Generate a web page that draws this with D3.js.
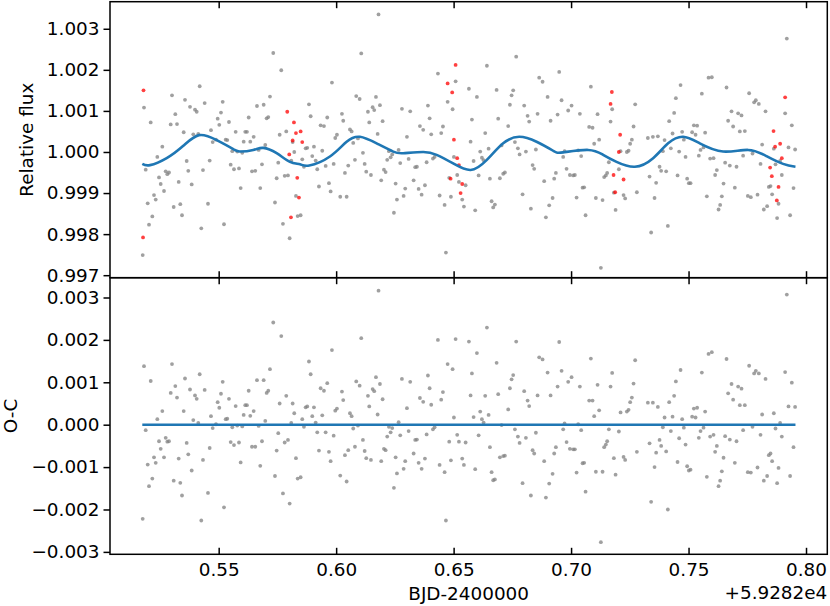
<!DOCTYPE html>
<html>
<head>
<meta charset="utf-8">
<script src="https://cdn.jsdelivr.net/npm/d3@7"></script>
<style>
  body { margin: 0; background: #fff; }
  svg { display: block; }
  text { font-family: "DejaVu Sans", sans-serif; }
</style>
</head>
<body>
<svg id="chart" width="830" height="606"></svg>
<script>
// BJD - 2459282, gray points (kept in the fit)
const time = [
0.51766,0.51821,0.51894,0.51979,0.52034,0.52107,0.52175,0.52247,0.52320,0.52388,
0.52460,0.52532,0.52601,0.52673,0.52745,0.52813,0.52885,0.52958,0.53013,0.53085,
0.53154,0.53226,0.53298,0.53366,0.53439,0.53511,0.53566,0.53638,0.53706,0.53779,
0.53851,0.53919,0.53992,0.54064,0.54132,0.54192,0.54260,0.54332,0.54404,0.54545,
0.54617,0.54672,0.54745,0.54885,0.54957,0.55026,0.55098,0.55170,0.55226,0.55298,
0.55366,0.55438,0.55511,0.55579,0.55651,0.55723,0.55791,0.55864,0.55936,0.56004,
0.56064,0.56132,0.56204,0.56277,0.56345,0.56417,0.56489,0.56557,0.56630,0.56702,
0.56770,0.56843,0.56915,0.56983,0.57042,0.57111,0.57183,0.57323,0.57396,0.57468,
0.57536,0.57596,0.57664,0.57736,0.57809,0.57877,0.57949,0.58021,0.58089,0.58149,
0.58217,0.58289,0.58362,
0.58489,0.58557,0.58630,0.58702,0.58770,0.58843,0.58915,0.58983,0.59055,0.59128,
0.59196,0.59268,0.59340,0.59409,0.59481,0.59553,0.59621,0.59694,0.59766,0.59821,
0.59894,0.59962,0.60034,0.60174,0.60247,0.60302,0.60374,0.60447,0.60515,0.60587,
0.60659,0.60727,0.60800,0.60855,0.60928,0.61000,0.61068,0.61140,0.61213,0.61281,
0.61353,0.61409,0.61481,0.61553,0.61621,0.61694,0.61766,0.61804,0.61864,0.61919,
0.61978,0.62034,0.62106,0.62174,0.62246,0.62319,0.62387,0.62459,0.62532,0.62587,
0.62659,0.62728,0.62800,0.62872,0.62940,0.63013,0.63085,0.63153,0.63298,0.63366,
0.63438,0.63511,0.63566,0.63638,0.63706,0.63779,0.63851,0.63906,0.63979,0.64047,
0.64119,0.64191,0.64332,0.64404,0.64472,0.64545,0.64617,0.64672,0.64745,0.64813,
0.64885,0.64957,0.65013,0.65085,0.65153,0.65226,0.65366,0.65438,0.65511,0.65651,
0.65723,0.65779,0.65851,0.65919,0.65991,0.66064,0.66132,0.66204,0.66277,0.66345,
0.66417,0.66489,0.66545,0.66617,0.66685,0.66757,0.66830,0.66898,0.66970,0.67042,
0.67111,0.67183,0.67323,0.67396,0.67468,0.67536,0.67609,0.67664,0.67736,0.67809,
0.67936,0.68004,0.68077,0.68149,0.68217,0.68289,0.68362,0.68430,0.68502,0.68574,
0.68643,0.68787,0.68855,0.68928,0.69000,0.69068,0.69128,0.69213,0.69281,0.69353,
0.69426,0.69494,
0.69596,0.69664,0.69723,0.69808,0.69877,0.69949,0.70021,0.70089,
0.70161,0.70234,0.70302,0.70374,0.70430,0.70489,0.70557,0.70617,0.70770,0.70842,
0.70914,0.70983,0.71055,0.71127,0.71195,0.71268,0.71340,0.71408,0.71480,0.71536,
0.71608,0.71681,0.71749,0.71821,0.71894,0.72034,0.72106,0.72234,0.72302,0.72374,
0.72447,0.72515,0.72587,0.72659,0.72728,0.72800,0.73268,0.73340,0.73408,0.73481,
0.73553,0.73621,0.73694,0.73766,0.73834,0.73906,0.73979,0.74047,0.74119,0.74175,
0.74247,0.74319,0.74387,0.74460,0.74532,0.74600,0.74660,0.74728,0.74800,0.74873,
0.74941,0.75013,0.75085,0.75153,0.75226,0.75298,0.75366,0.75438,0.75511,0.75566,
0.75638,0.75706,0.75779,0.75851,0.75919,0.75991,0.76064,0.76132,0.76204,0.76277,
0.76345,0.76417,0.76489,0.76557,0.76617,0.76685,0.76757,0.76830,0.76898,0.76970,
0.77042,0.77111,0.77183,0.77255,0.77323,0.77396,0.77523,0.77579,0.77651,0.77723,
0.77791,0.77864,0.77936,0.77991,0.78064,0.78132,0.78204,0.78277,0.78345,0.78417,
0.78489,0.78557,0.78630,0.78702,0.78770,0.78830,0.78898,0.78970,0.79111,0.79183,
0.79255,0.79323,0.79396,0.79468,0.79536
];

// relative flux of the gray points (top panel)
const flux = [
0.99749,1.00108,0.99957,0.99875,0.99823,1.00072,0.99843,0.99895,0.99884,0.99988,
0.99938,0.99922,1.00013,0.99905,0.99953,0.99946,0.99950,1.00067,1.00138,0.99866,
1.00092,1.00068,0.99927,0.99873,0.99846,1.00048,1.00127,0.99978,0.99954,1.00110,
0.99921,1.00043,1.00103,1.00098,1.00044,1.00160,0.99814,0.99956,1.00119,0.99874,
0.99979,1.00053,1.00024,1.00030,1.00081,1.00066,1.00096,1.00122,0.99824,1.00030,
1.00029,1.00073,0.99969,1.00002,0.99958,1.00049,1.00001,0.99960,0.99912,0.99998,
1.00025,1.00049,1.00049,1.00084,1.00025,0.99953,1.00037,0.99954,1.00112,1.00005,
0.99912,0.99970,1.00115,1.00017,1.00082,1.00085,1.00135,1.00241,0.99877,0.99936,
0.99974,1.00042,1.00199,0.99825,0.99942,1.00050,0.99943,0.99790,0.99979,1.00024,
1.00000,0.99893,0.99844,
0.99846,0.99982,0.99964,1.00009,1.00010,1.00116,1.00087,0.99990,1.00013,0.99979,
0.99958,0.99916,1.00065,1.00003,1.00063,0.99966,1.00084,0.99924,0.99904,1.00169,
0.99971,1.00034,1.00042,0.99891,1.00093,1.00076,0.99949,0.99891,0.99967,1.00055,
1.00050,1.00022,0.99981,1.00136,1.00033,1.00129,1.00240,0.99998,0.99971,0.99952,
1.00098,1.00072,0.99944,1.00109,1.00102,1.00134,1.00044,1.00335,1.00114,0.99931,
1.00075,0.99957,0.99951,0.99981,1.00002,0.99987,0.99994,0.99852,0.99923,0.99884,
1.00005,0.99973,1.00105,0.99893,0.99911,1.00037,0.99983,1.00099,0.99931,0.99963,
0.99964,0.99910,1.00063,0.99896,1.00054,0.99919,0.99975,1.00113,1.00082,1.00043,
0.99984,0.99988,1.00191,0.99894,1.00046,1.00062,0.99871,0.99755,1.00122,0.99937,
0.99891,1.00104,0.99988,1.00172,0.99944,0.99927,0.99884,0.99867,0.99919,1.00154,
1.00025,1.00079,0.99978,0.99858,1.00134,0.99943,1.00001,0.99986,0.99980,1.00046,
1.00210,1.00008,0.99935,0.99880,0.99865,0.99872,1.00151,1.00081,0.99936,1.00016,
0.99947,0.99950,1.00063,1.00115,1.00138,1.00150,1.00024,1.00232,1.00009,0.99994,
0.99897,1.00113,1.00001,1.00088,1.00074,0.99862,0.99968,0.99959,1.00006,1.00093,
1.00181,1.00171,0.99929,0.99841,1.00134,0.99870,1.00076,0.99888,0.99935,0.99949,
1.00091,1.00195,
1.00126,0.99988,1.00002,0.99959,1.00101,0.99944,1.00113,0.99943,
0.99944,0.99889,1.00004,1.00093,0.99990,0.99913,0.99914,0.99846,1.00061,1.00159,
1.00059,1.00020,0.99888,1.00092,1.00030,0.99718,0.99883,0.99939,0.99943,0.99949,
0.99975,1.00074,1.00104,0.99901,0.99859,0.99958,1.00002,0.99895,0.99887,1.00000,
1.00003,1.00020,1.00030,1.00062,1.00116,0.99902,1.00034,0.99940,0.99804,1.00037,
0.99888,0.99925,1.00038,0.99964,0.99954,1.00002,1.00029,0.99953,0.99820,1.00075,
1.00009,1.00045,1.00095,1.00131,0.99943,1.00001,1.00163,1.00049,1.00030,0.99988,
0.99935,0.99924,0.99924,1.00048,1.00065,1.00042,1.00064,0.99991,1.00005,1.00142,
1.00011,1.00047,0.99892,1.00181,0.99984,1.00182,0.99985,0.99944,0.99956,0.99860,
0.99871,0.99892,0.99923,0.99974,1.00157,1.00076,0.99967,1.00099,1.00062,0.99913,
0.99964,1.00094,1.00050,1.00089,0.99991,1.00051,0.99893,1.00143,0.99890,0.99996,
1.00121,1.00126,0.99896,1.00117,0.99971,1.00018,0.99860,1.00099,0.99868,0.99915,
0.99917,0.99897,1.00008,0.99970,0.99839,0.99874,0.99978,0.99944,1.00094,1.00276,
1.00011,0.99846,1.00065,0.99912,1.00006
];

// residuals O-C of the gray points (bottom panel)
const resid = [
-2.22e-3,1.38e-3,-0.13e-3,-0.94e-3,-1.45e-3,1.03e-3,-1.27e-3,-0.77e-3,-0.90e-3,0.13e-3,
-0.39e-3,-0.57e-3,0.32e-3,-0.77e-3,-0.31e-3,-0.40e-3,-0.39e-3,0.75e-3,1.43e-3,-1.32e-3,
0.91e-3,0.64e-3,-0.80e-3,-1.37e-3,-1.67e-3,0.32e-3,1.09e-3,-0.43e-3,-0.70e-3,0.83e-3,
-1.08e-3,0.11e-3,0.69e-3,0.61e-3,0.04e-3,1.19e-3,-2.26e-3,-0.83e-3,0.82e-3,-1.61e-3,
-0.55e-3,0.20e-3,-0.08e-3,0.01e-3,0.53e-3,0.40e-3,0.73e-3,1.01e-3,-1.95e-3,0.13e-3,
0.14e-3,0.61e-3,-0.41e-3,-0.06e-3,-0.48e-3,0.44e-3,-0.02e-3,-0.42e-3,-0.89e-3,-0.04e-3,
0.23e-3,0.46e-3,0.46e-3,0.80e-3,0.21e-3,-0.52e-3,0.32e-3,-0.52e-3,1.05e-3,-0.03e-3,
-0.97e-3,-0.39e-3,1.05e-3,0.09e-3,0.75e-3,0.80e-3,1.31e-3,2.41e-3,-1.21e-3,-0.61e-3,
-0.20e-3,0.50e-3,2.09e-3,-1.62e-3,-0.42e-3,0.68e-3,-0.36e-3,-1.86e-3,0.04e-3,0.50e-3,
0.27e-3,-0.79e-3,-1.27e-3,
-1.24e-3,0.13e-3,-0.05e-3,0.41e-3,0.43e-3,1.49e-3,1.19e-3,0.20e-3,0.41e-3,0.05e-3,
-0.18e-3,-0.61e-3,0.86e-3,0.22e-3,0.80e-3,-0.18e-3,0.98e-3,-0.64e-3,-0.86e-3,1.76e-3,
-0.26e-3,0.33e-3,0.38e-3,-1.20e-3,0.78e-3,0.58e-3,-0.72e-3,-1.34e-3,-0.60e-3,0.27e-3,
0.20e-3,-0.09e-3,-0.52e-3,1.02e-3,-0.02e-3,0.92e-3,2.04e-3,-0.36e-3,-0.62e-3,-0.79e-3,
0.68e-3,0.43e-3,-0.83e-3,0.84e-3,0.79e-3,1.12e-3,0.24e-3,3.16e-3,0.96e-3,-0.86e-3,
0.60e-3,-0.57e-3,-0.60e-3,-0.28e-3,-0.05e-3,-0.18e-3,-0.08e-3,-1.49e-3,-0.77e-3,-1.15e-3,
0.06e-3,-0.25e-3,1.08e-3,-1.04e-3,-0.86e-3,0.39e-3,-0.15e-3,1.01e-3,-0.68e-3,-0.36e-3,
-0.35e-3,-0.90e-3,0.63e-3,-1.04e-3,0.54e-3,-0.80e-3,-0.23e-3,1.16e-3,0.86e-3,0.47e-3,
-0.11e-3,-0.06e-3,2.00e-3,-0.95e-3,0.59e-3,0.77e-3,-1.12e-3,-2.26e-3,1.43e-3,-0.40e-3,
-0.84e-3,1.31e-3,0.17e-3,2.02e-3,-0.24e-3,-0.40e-3,-0.80e-3,-0.95e-3,-0.42e-3,1.96e-3,
0.69e-3,1.21e-3,0.18e-3,-1.05e-3,1.69e-3,-0.25e-3,0.31e-3,0.13e-3,0.05e-3,0.68e-3,
2.29e-3,0.23e-3,-0.53e-3,-1.12e-3,-1.31e-3,-1.29e-3,1.46e-3,0.72e-3,-0.77e-3,-0.01e-3,
-0.74e-3,-0.73e-3,0.36e-3,0.86e-3,1.07e-3,1.17e-3,-0.11e-3,1.96e-3,-0.28e-3,-0.43e-3,
-1.38e-3,0.79e-3,-0.31e-3,0.57e-3,0.44e-3,-1.67e-3,-0.60e-3,-0.68e-3,-0.19e-3,0.69e-3,
1.59e-3,1.54e-3,-0.86e-3,-1.72e-3,1.23e-3,-1.39e-3,0.69e-3,-1.16e-3,-0.68e-3,-0.53e-3,
0.90e-3,1.95e-3,
1.27e-3,-0.11e-3,0.03e-3,-0.41e-3,1.01e-3,-0.57e-3,1.12e-3,-0.58e-3,
-0.58e-3,-1.13e-3,0.01e-3,0.90e-3,-0.13e-3,-0.91e-3,-0.90e-3,-1.58e-3,0.57e-3,1.56e-3,
0.57e-3,0.20e-3,-1.11e-3,0.94e-3,0.34e-3,-2.77e-3,-1.11e-3,-0.53e-3,-0.47e-3,-0.39e-3,
-0.11e-3,0.90e-3,1.22e-3,-0.79e-3,-1.18e-3,-0.16e-3,0.29e-3,-0.76e-3,-0.83e-3,0.31e-3,
0.35e-3,0.53e-3,0.64e-3,0.97e-3,1.52e-3,-0.64e-3,0.52e-3,-0.44e-3,-1.82e-3,0.52e-3,
-1.00e-3,-0.66e-3,0.42e-3,-0.36e-3,-0.50e-3,-0.06e-3,0.17e-3,-0.63e-3,-2.00e-3,0.53e-3,
-0.15e-3,0.19e-3,0.68e-3,1.02e-3,-0.88e-3,-0.32e-3,1.29e-3,0.13e-3,-0.07e-3,-0.47e-3,
-0.98e-3,-1.08e-3,-1.06e-3,0.19e-3,0.38e-3,0.17e-3,0.40e-3,-0.31e-3,-0.15e-3,1.23e-3,
-0.07e-3,0.31e-3,-1.23e-3,1.67e-3,-0.28e-3,1.71e-3,-0.24e-3,-0.64e-3,-0.50e-3,-1.45e-3,
-1.32e-3,-1.10e-3,-0.78e-3,-0.27e-3,1.55e-3,0.74e-3,-0.35e-3,0.96e-3,0.59e-3,-0.90e-3,
-0.39e-3,0.90e-3,0.46e-3,0.85e-3,-0.13e-3,0.46e-3,-1.12e-3,1.39e-3,-1.13e-3,-0.05e-3,
1.21e-3,1.27e-3,-1.01e-3,1.21e-3,-0.24e-3,0.24e-3,-1.32e-3,1.08e-3,-1.21e-3,-0.72e-3,
-0.68e-3,-0.86e-3,0.27e-3,-0.09e-3,-1.38e-3,-1.02e-3,0.04e-3,-0.28e-3,1.24e-3,3.07e-3,
0.43e-3,-1.21e-3,0.99e-3,-0.53e-3,0.42e-3
];

// rejected points, shown in red in the top panel only
const redTime = [
0.51780,0.51800,
0.57919,0.58004,0.58077,0.58149,0.58204,0.58289,0.58345,0.58417,0.58489,0.58557,
0.64745,0.64872,0.64940,0.65013,0.65085,0.65153,0.65226,0.65298,0.65366,
0.71681,0.71736,0.71808,0.71876,0.72034,0.72089,0.72234,
0.78472,0.78545,0.78617,0.78685,0.78757,0.78830,0.78898,0.78970,0.79111
];
const redFlux = [
0.99792,1.00150,
1.00098,0.99994,0.99841,1.00028,1.00072,1.00046,0.99937,0.99889,1.00050,1.00024,
1.00167,0.99935,1.00145,1.00030,1.00212,0.99985,0.99968,0.99900,0.99922,
1.00117,1.00146,0.99944,0.99902,1.00000,1.00042,0.99933,
0.99962,0.99941,1.00051,1.00013,0.99882,0.99915,1.00020,0.99985,1.00133
];

// model curve
const modelTime = [
0.51749,0.52077,0.52787,0.53494,0.54162,0.54915,0.55621,0.55906,0.56472,0.56898,
0.57468,0.58034,0.58459,0.58855,0.59736,0.60446,0.61012,0.61723,0.62429,0.62855,
0.63706,0.64276,0.64982,0.65723,0.66403,0.67110,0.67791,0.68531,0.69237,0.69663,
0.70726,0.71365,0.71935,0.72714,0.73492,0.74130,0.74769,0.75479,0.76471,0.77534,
0.78317,0.79024,0.79551
];
const modelFlux = [
0.99971,0.99968,0.99985,1.00015,1.00041,1.00029,1.00007,1.00001,1.00005,1.00010,
0.99997,0.99976,0.99970,0.99967,0.99989,1.00025,1.00037,1.00021,1.00001,0.99997,
1.00000,0.99993,0.99972,0.99956,0.99980,1.00021,1.00037,1.00025,1.00003,0.99999,
1.00005,0.99993,0.99976,0.99964,0.99985,1.00021,1.00037,1.00021,1.00001,1.00005,
0.99990,0.99971,0.99964
];

const xTicks = [0.55, 0.60, 0.65, 0.70, 0.75, 0.80];
const xTickLabels = ["0.55", "0.60", "0.65", "0.70", "0.75", "0.80"];
const fluxTicks = [0.997, 0.998, 0.999, 1.000, 1.001, 1.002, 1.003];
const residTicks = [-0.003, -0.002, -0.001, 0.000, 0.001, 0.002, 0.003];

const left = 110, right = 827.3;
const top1 = 1.7, mid = 277.7, bottom = 554.3;
const fontSize = 18.4;
const blue = "#1f77b4";

const svg = d3.select("#chart");

const x = d3.scaleLinear().domain([0.50374, 0.80906]).range([left, right]);
const yTop = d3.scaleLinear().domain([0.996939, 1.003659]).range([mid, top1]);
const yBot = d3.scaleLinear().domain([-0.003057, 0.003467]).range([bottom, mid]);

function styleAxis(g) {
  g.select(".domain").remove();
  g.selectAll(".tick line").attr("stroke", "#000").attr("stroke-width", 1.5);
  g.selectAll(".tick text")
    .attr("fill", "#000")
    .attr("font-size", fontSize)
    .attr("font-family", "DejaVu Sans, sans-serif");
}

// points, top panel
svg.append("g").selectAll("circle")
  .data(time)
  .join("circle")
  .attr("cx", d => x(d))
  .attr("cy", (d, i) => yTop(flux[i]))
  .attr("r", 1.9)
  .attr("fill", "#808080")
  .attr("fill-opacity", 0.75);

svg.append("g").selectAll("circle")
  .data(redTime)
  .join("circle")
  .attr("cx", d => x(d))
  .attr("cy", (d, i) => yTop(redFlux[i]))
  .attr("r", 1.9)
  .attr("fill", "#ff0000")
  .attr("fill-opacity", 0.75);

const modelLine = d3.line()
  .x(d => x(d[0]))
  .y(d => yTop(d[1]))
  .curve(d3.curveNatural);

svg.append("path")
  .datum(modelTime.map((t, i) => [t, modelFlux[i]]))
  .attr("d", modelLine)
  .attr("fill", "none")
  .attr("stroke", blue)
  .attr("stroke-width", 2.6);

// points, bottom panel
svg.append("g").selectAll("circle")
  .data(time)
  .join("circle")
  .attr("cx", d => x(d))
  .attr("cy", (d, i) => yBot(resid[i]))
  .attr("r", 1.9)
  .attr("fill", "#808080")
  .attr("fill-opacity", 0.75);

const [t0, t1] = d3.extent(modelTime);
svg.append("line")
  .attr("x1", x(t0)).attr("x2", x(t1))
  .attr("y1", yBot(0)).attr("y2", yBot(0))
  .attr("stroke", blue)
  .attr("stroke-width", 2.6);

// axes
svg.append("g")
  .attr("transform", `translate(${left},0)`)
  .call(d3.axisLeft(yTop).tickValues(fluxTicks).tickFormat(d3.format(".3f")).tickSize(6.5).tickPadding(4))
  .call(styleAxis);

svg.append("g")
  .attr("transform", `translate(${left},0)`)
  .call(d3.axisLeft(yBot).tickValues(residTicks).tickFormat(d3.format(".3f")).tickSize(6.5).tickPadding(4))
  .call(styleAxis);

svg.append("g")
  .attr("transform", `translate(0,${top1})`)
  .call(d3.axisTop(x).tickValues(xTicks).tickFormat("").tickSize(-6.5))
  .call(styleAxis);

svg.append("g")
  .attr("transform", `translate(0,${mid})`)
  .call(d3.axisBottom(x).tickValues(xTicks).tickFormat("").tickSize(-6.5))
  .call(styleAxis);

svg.append("g")
  .attr("transform", `translate(0,${mid})`)
  .call(d3.axisTop(x).tickValues(xTicks).tickFormat("").tickSize(-6.5))
  .call(styleAxis);

svg.append("g")
  .attr("transform", `translate(0,${bottom})`)
  .call(d3.axisBottom(x).tickValues(xTicks).tickFormat((d, i) => xTickLabels[i]).tickSize(-6.5).tickPadding(8.7))
  .call(styleAxis);

// spines
[[top1, mid], [mid, bottom]].forEach(([a, b]) => {
  svg.append("rect")
    .attr("x", left).attr("y", a)
    .attr("width", right - left).attr("height", b - a)
    .attr("fill", "none")
    .attr("stroke", "#000")
    .attr("stroke-width", 1.5);
});

// labels
svg.append("text")
  .attr("transform", `translate(26,${(top1 + mid) / 2}) rotate(-90)`)
  .attr("text-anchor", "middle")
  .attr("dominant-baseline", "central")
  .attr("font-size", fontSize)
  .text("Relative flux");

svg.append("text")
  .attr("transform", `translate(10,${(mid + bottom) / 2}) rotate(-90)`)
  .attr("text-anchor", "middle")
  .attr("dominant-baseline", "central")
  .attr("font-size", fontSize)
  .text("O-C");

svg.append("text")
  .attr("x", (left + right) / 2).attr("y", 599.5)
  .attr("text-anchor", "middle")
  .attr("font-size", fontSize)
  .text("BJD-2400000");

svg.append("text")
  .attr("x", right).attr("y", 598.5)
  .attr("text-anchor", "end")
  .attr("font-size", fontSize)
  .text("+5.9282e4");
</script>
</body>
</html>
